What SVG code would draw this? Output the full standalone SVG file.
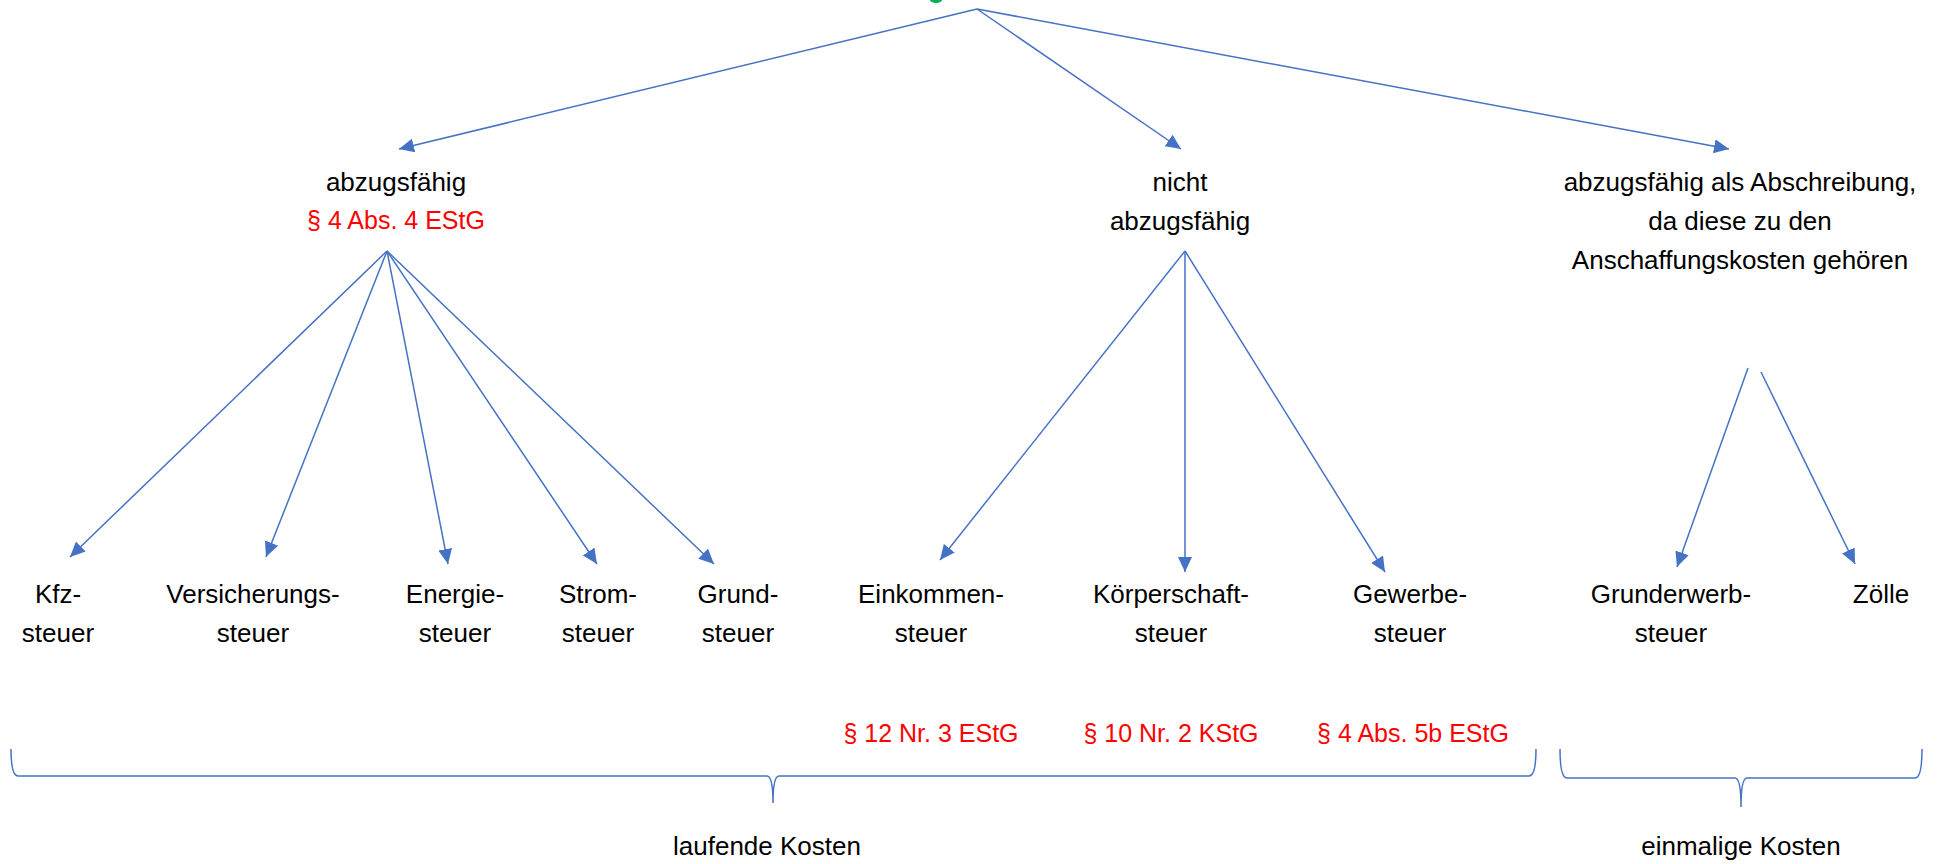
<svg xmlns="http://www.w3.org/2000/svg" width="1939" height="864" viewBox="0 0 1939 864">
<defs>
<marker id="arr" markerUnits="userSpaceOnUse" markerWidth="16" markerHeight="14" refX="15" refY="7" orient="auto">
<path d="M0,0 L15,7 L0,14 z" fill="#4472C4"/>
</marker>
<style>
.t{font-family:"Liberation Sans",Arial,sans-serif;font-size:26px;fill:#000;text-anchor:middle}
.r{font-family:"Liberation Sans",Arial,sans-serif;font-size:25px;fill:#FF0000;text-anchor:middle}
.c{stroke:#4472C4;stroke-width:1.5;fill:none;marker-end:url(#arr)}
.b{stroke:#4472C4;stroke-width:1.5;fill:none}
</style>
</defs>
<rect width="1939" height="864" fill="#fff"/>
<ellipse cx="936" cy="0" rx="6" ry="3" fill="#00B050"/>
<g id="connectors">
<line class="c" x1="977" y1="9" x2="399" y2="149"/>
<line class="c" x1="977" y1="9" x2="1181" y2="149"/>
<line class="c" x1="977" y1="9" x2="1729" y2="149"/>
<line class="c" x1="387" y1="251" x2="70" y2="557"/>
<line class="c" x1="387" y1="251" x2="266" y2="557"/>
<line class="c" x1="387" y1="251" x2="448" y2="564"/>
<line class="c" x1="387" y1="251" x2="597" y2="564"/>
<line class="c" x1="387" y1="251" x2="714" y2="564"/>
<line class="c" x1="1185" y1="251" x2="940" y2="560"/>
<line class="c" x1="1185" y1="251" x2="1185" y2="572"/>
<line class="c" x1="1185" y1="251" x2="1385" y2="572"/>
<line class="c" x1="1748" y1="368" x2="1677" y2="567"/>
<line class="c" x1="1761" y1="372" x2="1855" y2="564"/>
</g>
<g id="abzugsfaehig">
<text class="t" x="396" y="191">abzugsfähig</text>
<text class="r" x="396" y="229">§ 4 Abs. 4 EStG</text>
</g>
<g id="nicht-abzugsfaehig">
<text class="t" x="1180" y="191">nicht</text>
<text class="t" x="1180" y="230">abzugsfähig</text>
</g>
<g id="abschreibung">
<text class="t" x="1740" y="191">abzugsfähig als Abschreibung,</text>
<text class="t" x="1740" y="230">da diese zu den</text>
<text class="t" x="1740" y="269">Anschaffungskosten gehören</text>
</g>
<g id="kfz"><text class="t" x="58" y="603">Kfz-</text><text class="t" x="58" y="642">steuer</text></g>
<g id="versicherung"><text class="t" x="253" y="603">Versicherungs-</text><text class="t" x="253" y="642">steuer</text></g>
<g id="energie"><text class="t" x="455" y="603">Energie-</text><text class="t" x="455" y="642">steuer</text></g>
<g id="strom"><text class="t" x="598" y="603">Strom-</text><text class="t" x="598" y="642">steuer</text></g>
<g id="grund"><text class="t" x="738" y="603">Grund-</text><text class="t" x="738" y="642">steuer</text></g>
<g id="einkommen"><text class="t" x="931" y="603">Einkommen-</text><text class="t" x="931" y="642">steuer</text><text class="r" x="931" y="742">§ 12 Nr. 3 EStG</text></g>
<g id="koerperschaft"><text class="t" x="1171" y="603">Körperschaft-</text><text class="t" x="1171" y="642">steuer</text><text class="r" x="1171" y="742">§ 10 Nr. 2 KStG</text></g>
<g id="gewerbe"><text class="t" x="1410" y="603">Gewerbe-</text><text class="t" x="1410" y="642">steuer</text><text class="r" x="1413" y="742">§ 4 Abs. 5b EStG</text></g>
<g id="grunderwerb"><text class="t" x="1671" y="603">Grunderwerb-</text><text class="t" x="1671" y="642">steuer</text></g>
<g id="zoelle"><text class="t" x="1881" y="603">Zölle</text></g>
<g id="laufende-kosten">
<path class="b" d="M11,749 Q11,776 18,776 L767,776 Q773,776 773,803 Q773,776 779,776 L1529,776 Q1536,776 1536,749"/>
<text class="t" x="767" y="855">laufende Kosten</text>
</g>
<g id="einmalige-kosten">
<path class="b" d="M1560,749 Q1560,778 1567,778 L1735,778 Q1741,778 1741,807 Q1741,778 1747,778 L1915,778 Q1922,778 1922,749"/>
<text class="t" x="1741" y="855">einmalige Kosten</text>
</g>
</svg>
